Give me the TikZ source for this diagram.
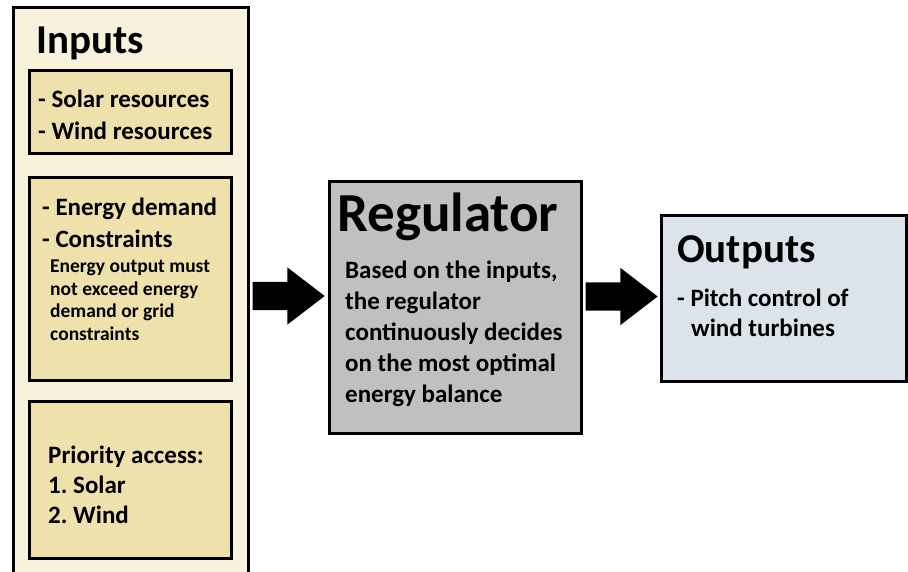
\documentclass[tikz,border=0pt]{standalone}
\usepackage{fontspec}
\setmainfont{Carlito}
\frenchspacing
\usetikzlibrary{shapes.arrows,calc}
\definecolor{cream}{HTML}{F8F1DC}
\definecolor{khaki}{HTML}{EEE1AC}
\definecolor{steel}{HTML}{C0C0C0}
\definecolor{mist}{HTML}{DCE3EA}
\begin{document}
\begin{tikzpicture}[x=1pt,y=-1pt,
                    panel/.style={draw=black,line width=3pt,fill=cream,anchor=north west,inner sep=0pt,outer sep=0pt},
                    slot/.style={panel,fill=khaki,minimum width=202.5pt},
                    txt/.style={anchor=base west,inner sep=0pt,align=left,font=\bfseries\fontsize{25}{31}\selectfont},
                    note/.style={txt,font=\bfseries\fontsize{19.5}{22.5}\selectfont},
                    head/.style={txt,font=\bfseries\fontsize{41}{41}\selectfont},
                    blockarr/.style={single arrow,fill=black,draw=none,anchor=tip,inner xsep=0pt,inner ysep=14pt,
                                     minimum height=72pt,single arrow head extend=14.5pt,single arrow tip angle=75}]
  \useasboundingbox[fill=white] (0,0) rectangle (908,571);
  % inputs column
  \node[panel,minimum width=235pt,minimum height=582pt] (inp) at (13.5,7.5) {};
  \node[slot,minimum height=83pt] (res) at (29,70.5) {};
  \node[slot,minimum height=202.5pt] (dem) at (29,177.5) {};
  \node[slot,minimum height=157pt] (prio) at (29,401.5) {};
  \node[head] (inpT) at (36,53) {Inputs};
  % multi-line texts sit on their last baseline
  \node[txt,font=\bfseries\fontsize{25}{32}\selectfont] (resT) at (38,139) {- Solar resources\\- Wind resources};
  \node[txt,font=\bfseries\fontsize{25}{32}\selectfont] (demT) at (42,247) {- Energy demand\\- Constraints};
  \node[note] (conT) at (50,340) {Energy output must\\not exceed energy\\demand or grid\\constraints};
  \node[txt,font=\bfseries\fontsize{25}{30}\selectfont] (prioT) at (48,523) {Priority access:\\1. Solar\\2. Wind};
  % regulator and outputs
  \node[panel,fill=steel,minimum width=252.5pt,minimum height=252.5pt] (reg) at (329,181) {};
  \node[txt,font=\bfseries\fontsize{55}{55}\selectfont] (regT) at (337,231) {Regulator};
  \node[txt] (regB) at (345,402) {Based on the inputs,\\the regulator\\continuously decides\\on the most optimal\\energy balance};
  \node[panel,fill=mist,minimum width=245pt,minimum height=166pt] (out) at (661.5,215.5) {};
  \node[head] (outT) at (677,262) {Outputs};
  \node[txt,font=\bfseries\fontsize{25}{30}\selectfont] (outB) at (677,336) {- Pitch control of\\\hspace*{14pt}wind turbines};
  \node[blockarr] (arr1) at (325,296) {};
  \node[blockarr] (arr2) at (658,296.5) {};
\end{tikzpicture}
\end{document}
